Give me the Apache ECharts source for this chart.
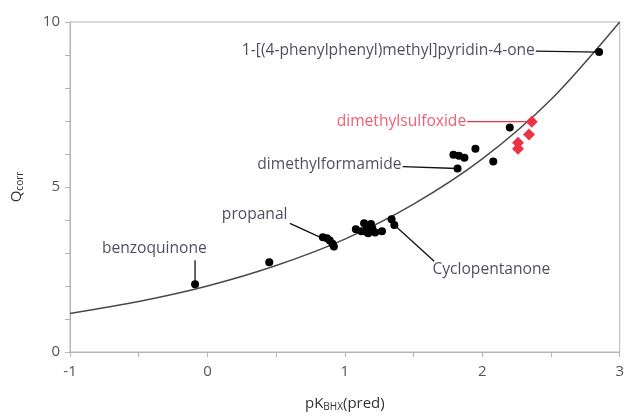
<!DOCTYPE html>
<html>
<head>
<meta charset="utf-8">
<script src="https://cdn.jsdelivr.net/npm/echarts@6/dist/echarts.min.js"></script>
<style>
  html, body { margin: 0; padding: 0; background: #fff; }
  #main { width: 627px; height: 417px; }
</style>
</head>
<body>
<div id="main"></div>
<script>
// measured compounds (black)
const blackPoints = [
    [-0.09, 2.05], [0.45, 2.72],
    [0.84, 3.48], [0.87, 3.45], [0.89, 3.38], [0.91, 3.28], [0.92, 3.2],
    [1.08, 3.72], [1.12, 3.66], [1.14, 3.9], [1.16, 3.8], [1.18, 3.7], [1.15, 3.65],
    [1.2, 3.75], [1.17, 3.6], [1.22, 3.62], [1.19, 3.88], [1.27, 3.66],
    [1.34, 4.02], [1.36, 3.85],
    [1.79, 5.98], [1.83, 5.95], [1.87, 5.89], [1.95, 6.16], [2.08, 5.77], [1.82, 5.56],
    [2.2, 6.8], [2.85, 9.09]
];
// dimethylsulfoxide (red diamonds)
const redPoints = [[2.36, 6.98], [2.34, 6.59], [2.26, 6.34], [2.26, 6.16]];

// fitted curve
const curveX = [-1, -0.5, 0, 0.5, 1, 1.5, 2, 2.5, 3];
const curveY = [1.17, 1.53, 2.0, 2.62, 3.42, 4.48, 5.85, 7.65, 10];

const xTicks = [-1, 0, 1, 2, 3];
const yTicks = [0, 5, 10];

// annotation: text, anchor of text, leader line from/to, label side
const labels = [
    { text: '1-[(4-phenylphenyl)methyl]pyridin-4-one', at: [2.39, 9.12], line: [[2.39, 9.12], [2.85, 9.09]], pos: 'left', color: '#1f1f33' },
    { text: 'dimethylsulfoxide', at: [1.89, 6.98], line: [[1.89, 6.98], [2.34, 6.98]], pos: 'left', color: '#e8364f' },
    { text: 'dimethylformamide', at: [1.42, 5.68], line: [[1.42, 5.62], [1.82, 5.56]], pos: 'left', color: '#1f1f33' },
    { text: 'propanal', at: [0.59, 4.17], line: [[0.6, 3.9], [0.85, 3.42]], pos: 'left', color: '#1f1f33' },
    { text: 'benzoquinone', at: [-0.386, 3.14], line: [[-0.09, 2.78], [-0.09, 2.1]], pos: 'inside', color: '#1f1f33' },
    { text: 'Cyclopentanone', at: [1.63, 2.51], line: [[1.37, 3.81], [1.65, 2.75]], pos: 'right', color: '#1f1f33' }
];

const chart = echarts.init(document.getElementById('main'));
const font = '"Open Sans", "Noto Sans", sans-serif';

let series = [];

series.push({
    type: 'line',
    data: curveX.map((x, i) => [x, curveY[i]]),
    smooth: 0.3,
    showSymbol: false,
    lineStyle: { color: '#4a4a4a', width: 1.5 },
    silent: true,
    z: 2
});

labels.forEach(l => {
    series.push({
        type: 'line',
        data: l.line,
        showSymbol: false,
        lineStyle: { color: l.color === '#e8364f' ? '#e8364f' : '#111', width: 1.3 },
        silent: true,
        z: 3
    });
});

series.push({
    type: 'scatter',
    data: blackPoints,
    symbolSize: 8,
    itemStyle: { color: '#000', opacity: 1 },
    z: 4
});

series.push({
    type: 'scatter',
    data: redPoints,
    symbol: 'diamond',
    symbolSize: 12,
    itemStyle: { color: '#ee3346', opacity: 1 },
    z: 4
});

series.push({
    type: 'scatter',
    symbolSize: 0,
    silent: true,
    data: labels.map(l => ({
        value: l.at,
        label: {
            show: true,
            formatter: l.text,
            position: l.pos,
            distance: 1,
            color: l.color,
            fontSize: 15.6,
            fontFamily: font
        }
    })),
    z: 5
});

let option = {
    animation: false,
    grid: {
        left: 70, right: 4, top: 22, bottom: 64,
        show: true, borderColor: '#b5b5b5', borderWidth: 1
    },
    xAxis: {
        type: 'value',
        min: -1, max: 3, interval: 0.5,
        splitLine: { show: false },
        axisLine: { onZero: false, lineStyle: { color: '#b5b5b5' } },
        axisTick: { length: 5, lineStyle: { color: '#b5b5b5' } },
        axisLabel: {
            color: '#555', fontSize: 15, fontFamily: font, margin: 12,
            formatter: v => xTicks.includes(v) ? String(v) : ''
        },
        name: '{a|pK}{s|BHX}{a|(pred)}',
        nameLocation: 'middle',
        nameGap: 44,
        nameTextStyle: {
            rich: {
                a: { fontSize: 15, color: '#333', fontFamily: font },
                s: { fontSize: 10, color: '#333', fontFamily: font, padding: [6, 0, 0, 0] }
            }
        }
    },
    yAxis: {
        type: 'value',
        min: 0, max: 10, interval: 1,
        splitLine: { show: false },
        axisLine: { show: true, onZero: false, lineStyle: { color: '#b5b5b5' } },
        axisTick: { show: true, length: 5, lineStyle: { color: '#b5b5b5' } },
        axisLabel: {
            color: '#555', fontSize: 15, fontFamily: font, margin: 10,
            formatter: v => yTicks.includes(v) ? String(v) : ''
        },
        name: '{a|Q}{s|corr}',
        nameLocation: 'middle',
        nameGap: 45,
        nameTextStyle: {
            rich: {
                a: { fontSize: 15, color: '#333', fontFamily: font },
                s: { fontSize: 10, color: '#333', fontFamily: font, padding: [6, 0, 0, 0] }
            }
        }
    },
    series: series
};

chart.setOption(option);
</script>
</body>
</html>
